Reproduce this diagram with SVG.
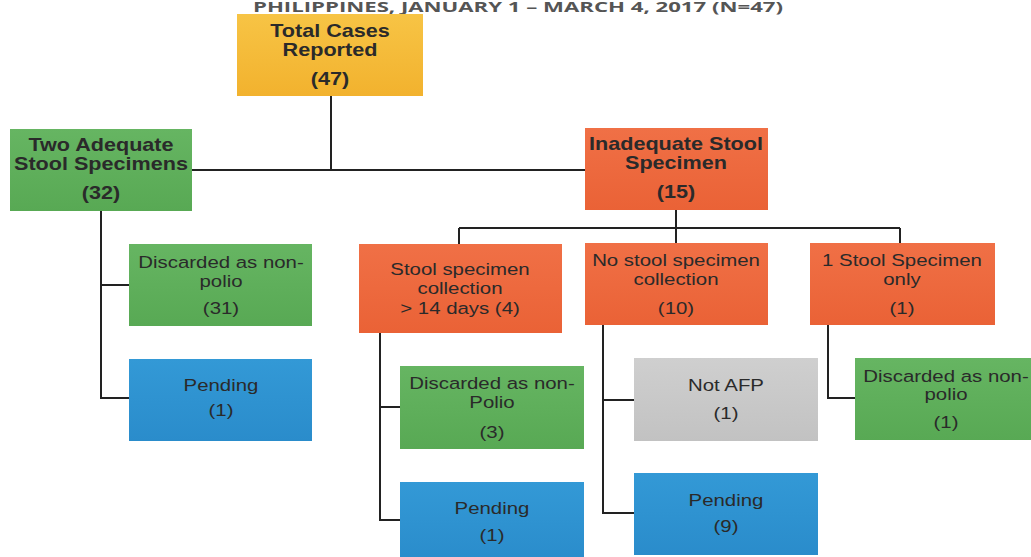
<svg xmlns="http://www.w3.org/2000/svg" width="1031" height="557" viewBox="0 0 1031 557">
<defs>
<linearGradient id="gy" x1="0" y1="0" x2="0" y2="1"><stop offset="0" stop-color="#F7C445"/><stop offset="1" stop-color="#F2B22E"/></linearGradient>
<linearGradient id="gg" x1="0" y1="0" x2="0" y2="1"><stop offset="0" stop-color="#66B562"/><stop offset="1" stop-color="#58A954"/></linearGradient>
<linearGradient id="go" x1="0" y1="0" x2="0" y2="1"><stop offset="0" stop-color="#F07046"/><stop offset="1" stop-color="#EA6236"/></linearGradient>
<linearGradient id="gb" x1="0" y1="0" x2="0" y2="1"><stop offset="0" stop-color="#3399D6"/><stop offset="1" stop-color="#2A8CCB"/></linearGradient>
<linearGradient id="gs" x1="0" y1="0" x2="0" y2="1"><stop offset="0" stop-color="#CFCFCF"/><stop offset="1" stop-color="#C2C2C2"/></linearGradient>
</defs>
<style>
.y{fill:url(#gy)}.g{fill:url(#gg)}.o{fill:url(#go)}.b{fill:url(#gb)}.s{fill:url(#gs)}
text{font-family:"Liberation Sans",Arial,sans-serif;text-anchor:middle;fill:#2a2a2a}
.h{font-weight:bold;font-size:18px}
.n{font-size:17px}
.c path{stroke:#222;stroke-width:2;fill:none}
.t{font-family:"Open Sans",sans-serif;font-weight:bold;font-size:14px;fill:#555;text-anchor:start}
</style>
<rect width="1031" height="557" fill="#fff"/>
<text class="t" x="253" y="12" textLength="530" lengthAdjust="spacingAndGlyphs">PHILIPPINES,  JANUARY  1 – MARCH  4, 2017 (N=47)</text>
<g class="c">
<path d="M331 96V170M192 170H585"/>
<path d="M101 211V398H129M101 285H129"/>
<path d="M676 210V228M459 228H900M459 228V244M676 228V243M900 228V243"/>
<path d="M380 333V520H400M380 407H400"/>
<path d="M603 325V513H634M603 400H634"/>
<path d="M828 325V398H855"/>
</g>
<g id="total"><rect class="y" x="237" y="14" width="186" height="82"/><g transform="matrix(1.2 0 0 1 -66 0)"><text class="h" x="330" y="37">Total Cases</text><text class="h" x="330" y="56">Reported</text><text class="h" x="330" y="85">(47)</text></g></g>
<g id="adequate"><rect class="g" x="10" y="129" width="182" height="82"/><g transform="matrix(1.2 0 0 1 -20.2 0)"><text class="h" x="101" y="151">Two Adequate</text><text class="h" x="101" y="170">Stool Specimens</text><text class="h" x="101" y="199">(32)</text></g></g>
<g id="inadequate"><rect class="o" x="585" y="128" width="183" height="82"/><g transform="matrix(1.2 0 0 1 -135.2 0)"><text class="h" x="676" y="150">Inadequate Stool</text><text class="h" x="676" y="169">Specimen</text><text class="h" x="676" y="198">(15)</text></g></g>
<g id="late"><rect class="o" x="359" y="244" width="203" height="89"/><g transform="matrix(1.2 0 0 1 -92 0)"><text class="n" x="460" y="275">Stool specimen</text><text class="n" x="460" y="294">collection</text><text class="n" x="460" y="314">&gt; 14 days  (4)</text></g></g>
<g id="nostool"><rect class="o" x="585" y="243" width="183" height="82"/><g transform="matrix(1.2 0 0 1 -135.2 0)"><text class="n" x="676" y="266">No stool specimen</text><text class="n" x="676" y="285">collection</text><text class="n" x="676" y="314">(10)</text></g></g>
<g id="onestool"><rect class="o" x="810" y="243" width="185" height="82"/><g transform="matrix(1.2 0 0 1 -180.4 0)"><text class="n" x="902" y="266">1 Stool Specimen</text><text class="n" x="902" y="285">only</text><text class="n" x="902" y="314">(1)</text></g></g>
<g id="disc31"><rect class="g" x="129" y="244" width="183" height="82"/><g transform="matrix(1.2 0 0 1 -44.2 0)"><text class="n" x="221" y="268">Discarded as non-</text><text class="n" x="221" y="287">polio</text><text class="n" x="221" y="314">(31)</text></g></g>
<g id="pend1a"><rect class="b" x="129" y="359" width="183" height="82"/><g transform="matrix(1.2 0 0 1 -44.2 0)"><text class="n" x="221" y="391">Pending</text><text class="n" x="221" y="416">(1)</text></g></g>
<g id="disc3"><rect class="g" x="400" y="366" width="184" height="83"/><g transform="matrix(1.2 0 0 1 -98.4 0)"><text class="n" x="492" y="389">Discarded as non-</text><text class="n" x="492" y="408">Polio</text><text class="n" x="492" y="438">(3)</text></g></g>
<g id="pend1b"><rect class="b" x="400" y="482" width="184" height="80"/><g transform="matrix(1.2 0 0 1 -98.4 0)"><text class="n" x="492" y="514">Pending</text><text class="n" x="492" y="541">(1)</text></g></g>
<g id="notafp"><rect class="s" x="634" y="358" width="184" height="83"/><g transform="matrix(1.2 0 0 1 -145.2 0)"><text class="n" x="726" y="391">Not AFP</text><text class="n" x="726" y="419">(1)</text></g></g>
<g id="pend9"><rect class="b" x="634" y="473" width="184" height="82"/><g transform="matrix(1.2 0 0 1 -145.2 0)"><text class="n" x="726" y="506">Pending</text><text class="n" x="726" y="532">(9)</text></g></g>
<g id="disc1"><rect class="g" x="855" y="358" width="190" height="82"/><g transform="matrix(1.2 0 0 1 -189.2 0)"><text class="n" x="946" y="382">Discarded as non-</text><text class="n" x="946" y="400">polio</text><text class="n" x="946" y="428">(1)</text></g></g>
</svg>
